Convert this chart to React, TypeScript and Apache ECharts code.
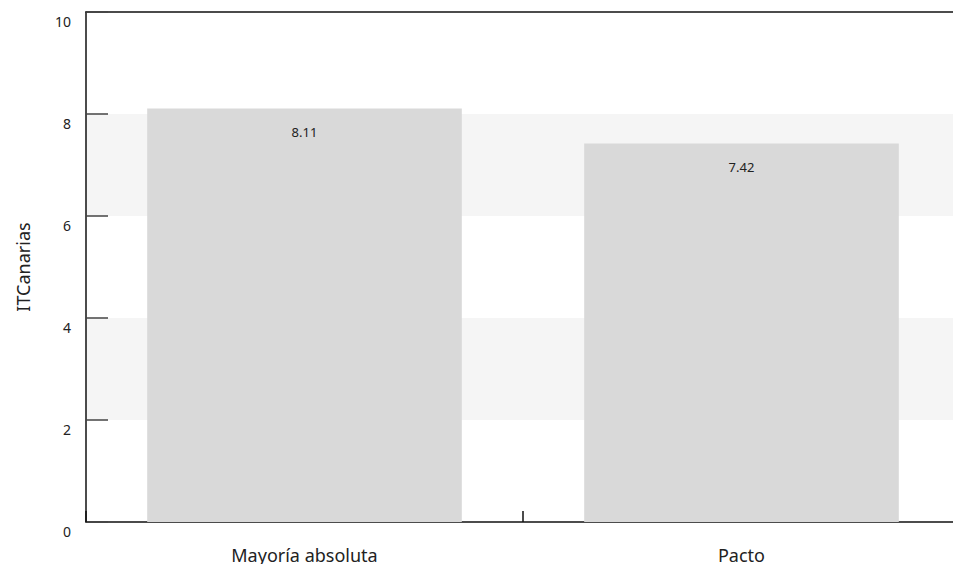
import React, { useEffect, useRef } from "react";
import * as echarts from "echarts";

const categories = ["Mayoría absoluta", "Pacto"];
const values = [8.11, 7.42];
const yAxisName = "ITCanarias";
const yMin = 0;
const yMax = 10;
const yStep = 2;

const FONT = "'Noto Sans', 'Open Sans', sans-serif";

export default function App() {
  const ref = useRef<HTMLDivElement>(null);

  useEffect(() => {
    if (!ref.current) return;
    const chart = echarts.init(ref.current, undefined, { renderer: "svg" });
    chart.setOption({
      animation: false,
      textStyle: { fontFamily: FONT },
      // the plot area runs a few pixels past the visible frame on the right
      grid: { left: 86, right: 0, top: 12, bottom: 42, containLabel: false },
      xAxis: [
        {
          type: "category",
          data: categories,
          position: "bottom",
          axisLine: { show: true, lineStyle: { color: "#111", width: 1.5 } },
          axisTick: { show: true, inside: true, length: 11, lineStyle: { color: "#111", width: 1.5 } },
          axisLabel: { color: "#222", fontSize: 18, margin: 24, fontFamily: FONT },
          splitLine: { show: false },
        },
        {
          type: "category",
          data: categories,
          position: "top",
          axisLine: { show: true, lineStyle: { color: "#111", width: 1.5 } },
          axisTick: { show: false },
          axisLabel: { show: false },
          splitLine: { show: false },
        },
      ],
      yAxis: {
        type: "value",
        min: yMin,
        max: yMax,
        interval: yStep,
        name: yAxisName,
        nameLocation: "middle",
        nameRotate: 90,
        nameGap: 54,
        nameTextStyle: { color: "#222", fontSize: 18, fontFamily: FONT },
        axisLine: { show: true, lineStyle: { color: "#111", width: 1.5 } },
        axisTick: { show: true, inside: true, length: 22, lineStyle: { color: "#444", width: 1.5 } },
        axisLabel: {
          color: "#222",
          fontSize: 14,
          margin: 15,
          verticalAlign: "top",
          padding: [2, 0, 0, 0],
          fontFamily: FONT,
        },
        splitLine: { show: false },
        splitArea: { show: true, areaStyle: { color: ["#ffffff", "#f5f5f5"] } },
      },
      series: [
        {
          type: "bar",
          data: values,
          barWidth: "72%",
          itemStyle: { color: "#d9d9d9" },
          label: {
            show: true,
            position: "insideTop",
            distance: 17,
            color: "#222",
            fontSize: 13,
            fontFamily: FONT,
            formatter: (p: any) => p.value.toFixed(2),
          },
        },
      ],
    });
    return () => chart.dispose();
  }, []);

  return (
    <div style={{ position: "absolute", left: 0, top: 0, width: 953, height: 564, overflow: "hidden" }}>
      <div ref={ref} style={{ width: 960, height: 564 }} />
    </div>
  );
}
